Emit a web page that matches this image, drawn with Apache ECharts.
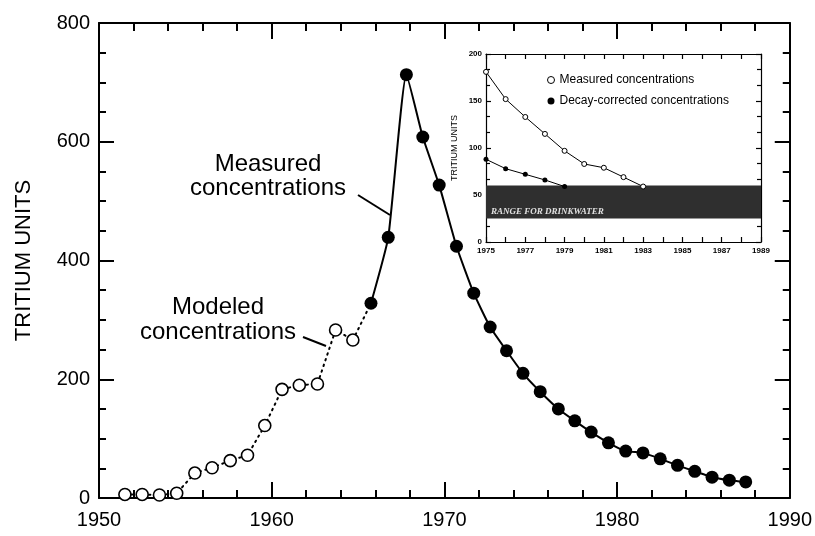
<!DOCTYPE html>
<html>
<head>
<meta charset="utf-8">
<script src="https://cdn.jsdelivr.net/npm/echarts@6/dist/echarts.min.js"></script>
<style>
html,body{margin:0;padding:0;background:#fff;}
#chart{width:815px;height:536px;}
</style>
</head>
<body>
<div id="chart"></div>
<script>
// ---- Main chart data ----
var modeledYears = [1951.5,1952.5,1953.5,1954.5,1955.55,1956.55,1957.6,1958.6,1959.6,1960.6,1961.6,1962.65,1963.7,1964.7];
var modeledValues = [6,6,5,8,42,51,63,72,122,183,190,192,283,266];
var measuredYears = [1965.75,1966.75,1967.8,1968.75,1969.7,1970.7,1971.7,1972.65,1973.6,1974.55,1975.55,1976.6,1977.55,1978.5,1979.5,1980.5,1981.5,1982.5,1983.5,1984.5,1985.5,1986.5,1987.45];
var measuredValues = [328,439,713,608,527,424,345,288,248,210,179,150,130,111,93,79,76,66,55,45,35,30,27];
var mainXTicks = [1950,1960,1970,1980,1990];
var mainYTicks = [0,200,400,600,800];

// ---- Inset data ----
var insetMeasuredYears = [1975,1976,1977,1978,1979,1980,1981,1982,1983];
var insetMeasuredValues = [181,152,133,115,97,83,79,69,59];
var insetDecayYears = [1975,1976,1977,1978,1979];
var insetDecayValues = [88,78,72,66,59];
var drinkingRange = [25,60];
var insetXTicks = [1975,1977,1979,1981,1983,1985,1987,1989];
var insetYTicks = [0,50,100,150,200];

function pairs(xs, ys){ return xs.map(function(x,i){ return [x, ys[i]]; }); }
function plain(v){ return String(v); }

var FONT = '"Liberation Sans", Arial, Helvetica, sans-serif';
var chart = echarts.init(document.getElementById('chart'), null, {renderer:'canvas'});

function mainX(pos, show){
  return {
    type:'value', gridIndex:0, position:pos,
    min:mainXTicks[0], max:mainXTicks[mainXTicks.length-1], interval:10,
    axisLine:{show:true, onZero:false, lineStyle:{color:'#000', width:2}},
    axisTick:{show:true, inside:true, length:16, lineStyle:{color:'#000', width:2}},
    minorTick:{show:true, splitNumber:5, length:8, lineStyle:{color:'#000', width:2}},
    splitLine:{show:false},
    axisLabel:{show:show, color:'#000', fontSize:20, fontFamily:FONT, margin:12, formatter:plain}
  };
}
function mainY(pos, show){
  return {
    type:'value', gridIndex:0, position:pos,
    min:mainYTicks[0], max:mainYTicks[mainYTicks.length-1], interval:200,
    axisLine:{show:true, onZero:false, lineStyle:{color:'#000', width:2}},
    axisTick:{show:true, inside:true, length:15, lineStyle:{color:'#000', width:2}},
    minorTick:{show:true, splitNumber:4, length:7, lineStyle:{color:'#000', width:2}},
    splitLine:{show:false},
    axisLabel:{show:show, color:'#000', fontSize:20, fontFamily:FONT, margin:9, formatter:plain},
    name: show ? 'TRITIUM UNITS' : '',
    nameLocation:'middle', nameGap:64, nameRotate:90,
    nameTextStyle:{color:'#000', fontSize:22, fontFamily:FONT}
  };
}
function insetX(pos, show){
  return {
    type:'value', gridIndex:1, position:pos,
    min:insetXTicks[0], max:insetXTicks[insetXTicks.length-1], interval:2,
    axisLine:{show:true, onZero:false, lineStyle:{color:'#000', width:1.2}},
    axisTick:{show:true, inside:true, length:5, lineStyle:{color:'#000', width:1.2}},
    minorTick:{show:true, splitNumber:2, length:5, lineStyle:{color:'#000', width:1.2}},
    splitLine:{show:false},
    axisLabel:{show:show, color:'#000', fontSize:8, fontWeight:'bold', fontFamily:FONT, margin:5, formatter:plain}
  };
}
function insetY(pos, show){
  return {
    type:'value', gridIndex:1, position:pos,
    min:insetYTicks[0], max:insetYTicks[insetYTicks.length-1], interval:50,
    axisLine:{show:true, onZero:false, lineStyle:{color:'#000', width:1.2}},
    axisTick:{show:true, inside:true, length:5, lineStyle:{color:'#000', width:1.2}},
    minorTick:{show:true, splitNumber:3, length:4, lineStyle:{color:'#000', width:1.2}},
    splitLine:{show:false},
    axisLabel:{show:show, color:'#000', fontSize:8, fontWeight:'bold', fontFamily:FONT, margin:4, formatter:plain},
    name: show ? 'TRITIUM UNITS' : '',
    nameLocation:'middle', nameGap:27, nameRotate:90,
    nameTextStyle:{color:'#000', fontSize:9, fontFamily:FONT}
  };
}

var option = {
  animation:false,
  backgroundColor:'#fff',
  grid:[
    {left:99, right:24, top:23, bottom:38, containLabel:false},
    {left:486, right:54, top:54, bottom:294, containLabel:false}
  ],
  xAxis:[mainX('bottom', true), mainX('top', false), insetX('bottom', true), insetX('top', false)],
  yAxis:[mainY('left', true), mainY('right', false), insetY('left', true), insetY('right', false)],
  legend:{
    show:true, orient:'vertical', left:542, top:69, itemWidth:7, itemHeight:7, itemGap:9,
    textStyle:{color:'#000', fontSize:12, fontFamily:FONT},
    data:[
      {name:'Measured concentrations', icon:'circle', itemStyle:{color:'#fff', borderColor:'#000', borderWidth:1}},
      {name:'Decay-corrected concentrations', icon:'circle', itemStyle:{color:'#000'}}
    ]
  },
  series:[
    {
      name:'modeled', type:'line', xAxisIndex:0, yAxisIndex:0,
      data:pairs(modeledYears, modeledValues),
      symbol:'circle', symbolSize:12,
      itemStyle:{color:'#fff', borderColor:'#000', borderWidth:1.6},
      lineStyle:{color:'#000', width:2, type:[1.5,4.5], cap:'round'},
      z:3
    },
    {
      name:'link', type:'line', xAxisIndex:0, yAxisIndex:0,
      data:[[modeledYears[modeledYears.length-1], modeledValues[modeledValues.length-1]],[measuredYears[0], measuredValues[0]]],
      symbol:'none',
      lineStyle:{color:'#000', width:2, type:[1.5,4.5], cap:'round'},
      z:2
    },
    {
      name:'measured', type:'line', xAxisIndex:0, yAxisIndex:0,
      data:pairs(measuredYears, measuredValues),
      smooth:0.15,
      symbol:'circle', symbolSize:13,
      itemStyle:{color:'#000'},
      lineStyle:{color:'#000', width:2},
      z:3
    },
    {
      name:'Measured concentrations', type:'line', xAxisIndex:2, yAxisIndex:2,
      data:pairs(insetMeasuredYears, insetMeasuredValues),
      symbol:'circle', symbolSize:5,
      itemStyle:{color:'#fff', borderColor:'#000', borderWidth:1},
      lineStyle:{color:'#000', width:1},
      z:2
    },
    {
      name:'Decay-corrected concentrations', type:'line', xAxisIndex:2, yAxisIndex:2,
      data:pairs(insetDecayYears, insetDecayValues),
      symbol:'circle', symbolSize:5,
      itemStyle:{color:'#000'},
      lineStyle:{color:'#000', width:1},
      z:2
    },
    {
      name:'band', type:'line', xAxisIndex:2, yAxisIndex:2, data:[], z:6,
      markArea:{
        silent:true,
        itemStyle:{color:'#2f2f2f'},
        label:{show:true, position:'insideBottomLeft', offset:[0,3], formatter:'RANGE FOR DRINKWATER',
               color:'rgba(255,255,255,0.85)', fontSize:9, fontStyle:'italic', fontWeight:'bold', fontFamily:'"Liberation Serif", serif'},
        data:[[{xAxis:insetXTicks[0], yAxis:drinkingRange[1]}, {xAxis:insetXTicks[insetXTicks.length-1], yAxis:drinkingRange[0]}]]
      }
    }
  ],
  graphic:[
    {type:'text', z:10,
     style:{text:'Measured\nconcentrations', x:268, y:176, font:'24px ' + FONT, fill:'#000', textAlign:'center', textVerticalAlign:'middle', lineHeight:24}},
    {type:'line', z:10, shape:{x1:358, y1:195, x2:390, y2:215}, style:{stroke:'#000', lineWidth:2}},
    {type:'text', z:10,
     style:{text:'Modeled\nconcentrations', x:218, y:320, font:'24px ' + FONT, fill:'#000', textAlign:'center', textVerticalAlign:'middle', lineHeight:25}},
    {type:'line', z:10, shape:{x1:303, y1:337, x2:326, y2:346}, style:{stroke:'#000', lineWidth:2}}
  ]
};
chart.setOption(option);
</script>
</body>
</html>
